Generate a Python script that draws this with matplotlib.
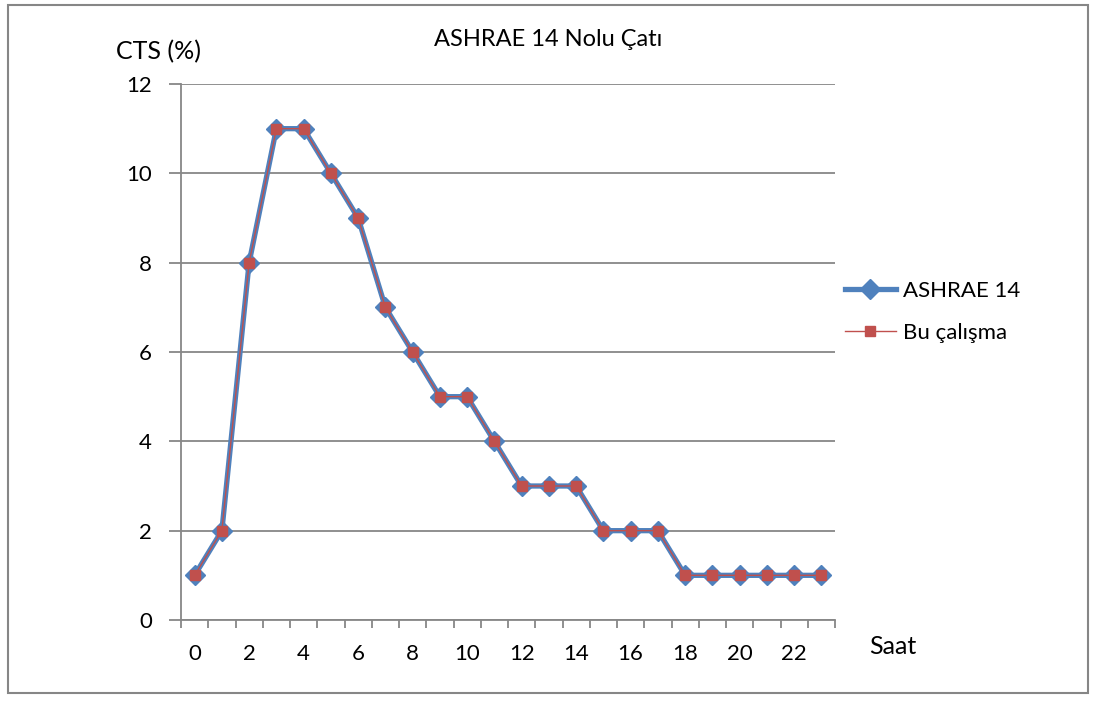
import matplotlib.pyplot as plt
from matplotlib.patches import Rectangle

# Data
hours = list(range(24))
ashrae = [1, 2, 8, 11, 11, 10, 9, 7, 6, 5, 5, 4, 3, 3, 3, 2, 2, 2, 1, 1, 1, 1, 1, 1]
bu_calisma = [1, 2, 8, 11, 11, 10, 9, 7, 6, 5, 5, 4, 3, 3, 3, 2, 2, 2, 1, 1, 1, 1, 1, 1]
x_labels = [str(h) for h in range(0, 24, 2)]
y_ticks = [0, 2, 4, 6, 8, 10, 12]

plt.rcParams['font.family'] = ['Lato', 'DejaVu Sans']

fig = plt.figure(figsize=(10.96, 7.02), dpi=100)
ax = fig.add_axes([181 / 1096, 1 - 620 / 702, 654 / 1096, 536 / 702])

blue = '#4F81BD'
red = '#C0504D'
grid_c = '#878787'

ax.plot(hours, ashrae, color=blue, lw=3.8, marker='D', ms=10.5, mfc=blue, mec=blue,
        label='ASHRAE 14', zorder=3)
ax.plot(hours, bu_calisma, color=red, lw=1.0, marker='s', ms=7, mfc=red, mec=red,
        label='Bu çalışma', zorder=4)

ax.set_xlim(-0.5, 23.5)
ax.set_ylim(0, 12)
ax.set_yticks(y_ticks)
ax.set_yticklabels([str(v) for v in y_ticks], fontsize=16)
ax.yaxis.grid(True, color=grid_c, lw=1.3)
ax.set_axisbelow(True)

# category axis: ticks on boundaries, labels at every second category centre
ax.set_xticks([i - 0.5 for i in range(25)])
ax.set_xticklabels([])
ax.set_xticks(list(range(0, 24, 2)), minor=True)
ax.set_xticklabels(x_labels, minor=True, fontsize=16)
ax.tick_params(axis='x', which='major', length=6, width=1.3, color=grid_c, direction='out')
ax.tick_params(axis='x', which='minor', length=0, pad=17)
ax.tick_params(axis='y', length=9, width=1.3, color=grid_c, pad=12)

for s in ['top', 'right']:
    ax.spines[s].set_visible(False)
for s in ['left', 'bottom']:
    ax.spines[s].set_color(grid_c)
    ax.spines[s].set_linewidth(1.3)

fig.text(548 / 1096, 1 - 40 / 702, 'ASHRAE 14 Nolu Çatı', ha='center', va='center', fontsize=17)
fig.text(158 / 1096, 1 - 52 / 702, 'CTS (%)', ha='center', va='center', fontsize=18)
fig.text(893 / 1096, 1 - 647 / 702, 'Saat', ha='center', va='center', fontsize=18)

ax.legend(loc='center left', bbox_to_anchor=(836 / 1096, 1 - 312 / 702),
          bbox_transform=fig.transFigure, frameon=False, fontsize=16,
          handlelength=2.3, handletextpad=0.3, labelspacing=1.0, borderaxespad=0)

fig.patches.append(Rectangle((8 / 1096, 1 - 693 / 702), 1080 / 1096, 688 / 702,
                             transform=fig.transFigure, fill=False,
                             edgecolor='#868686', lw=1.5))

fig.savefig('out.png', dpi=100)
